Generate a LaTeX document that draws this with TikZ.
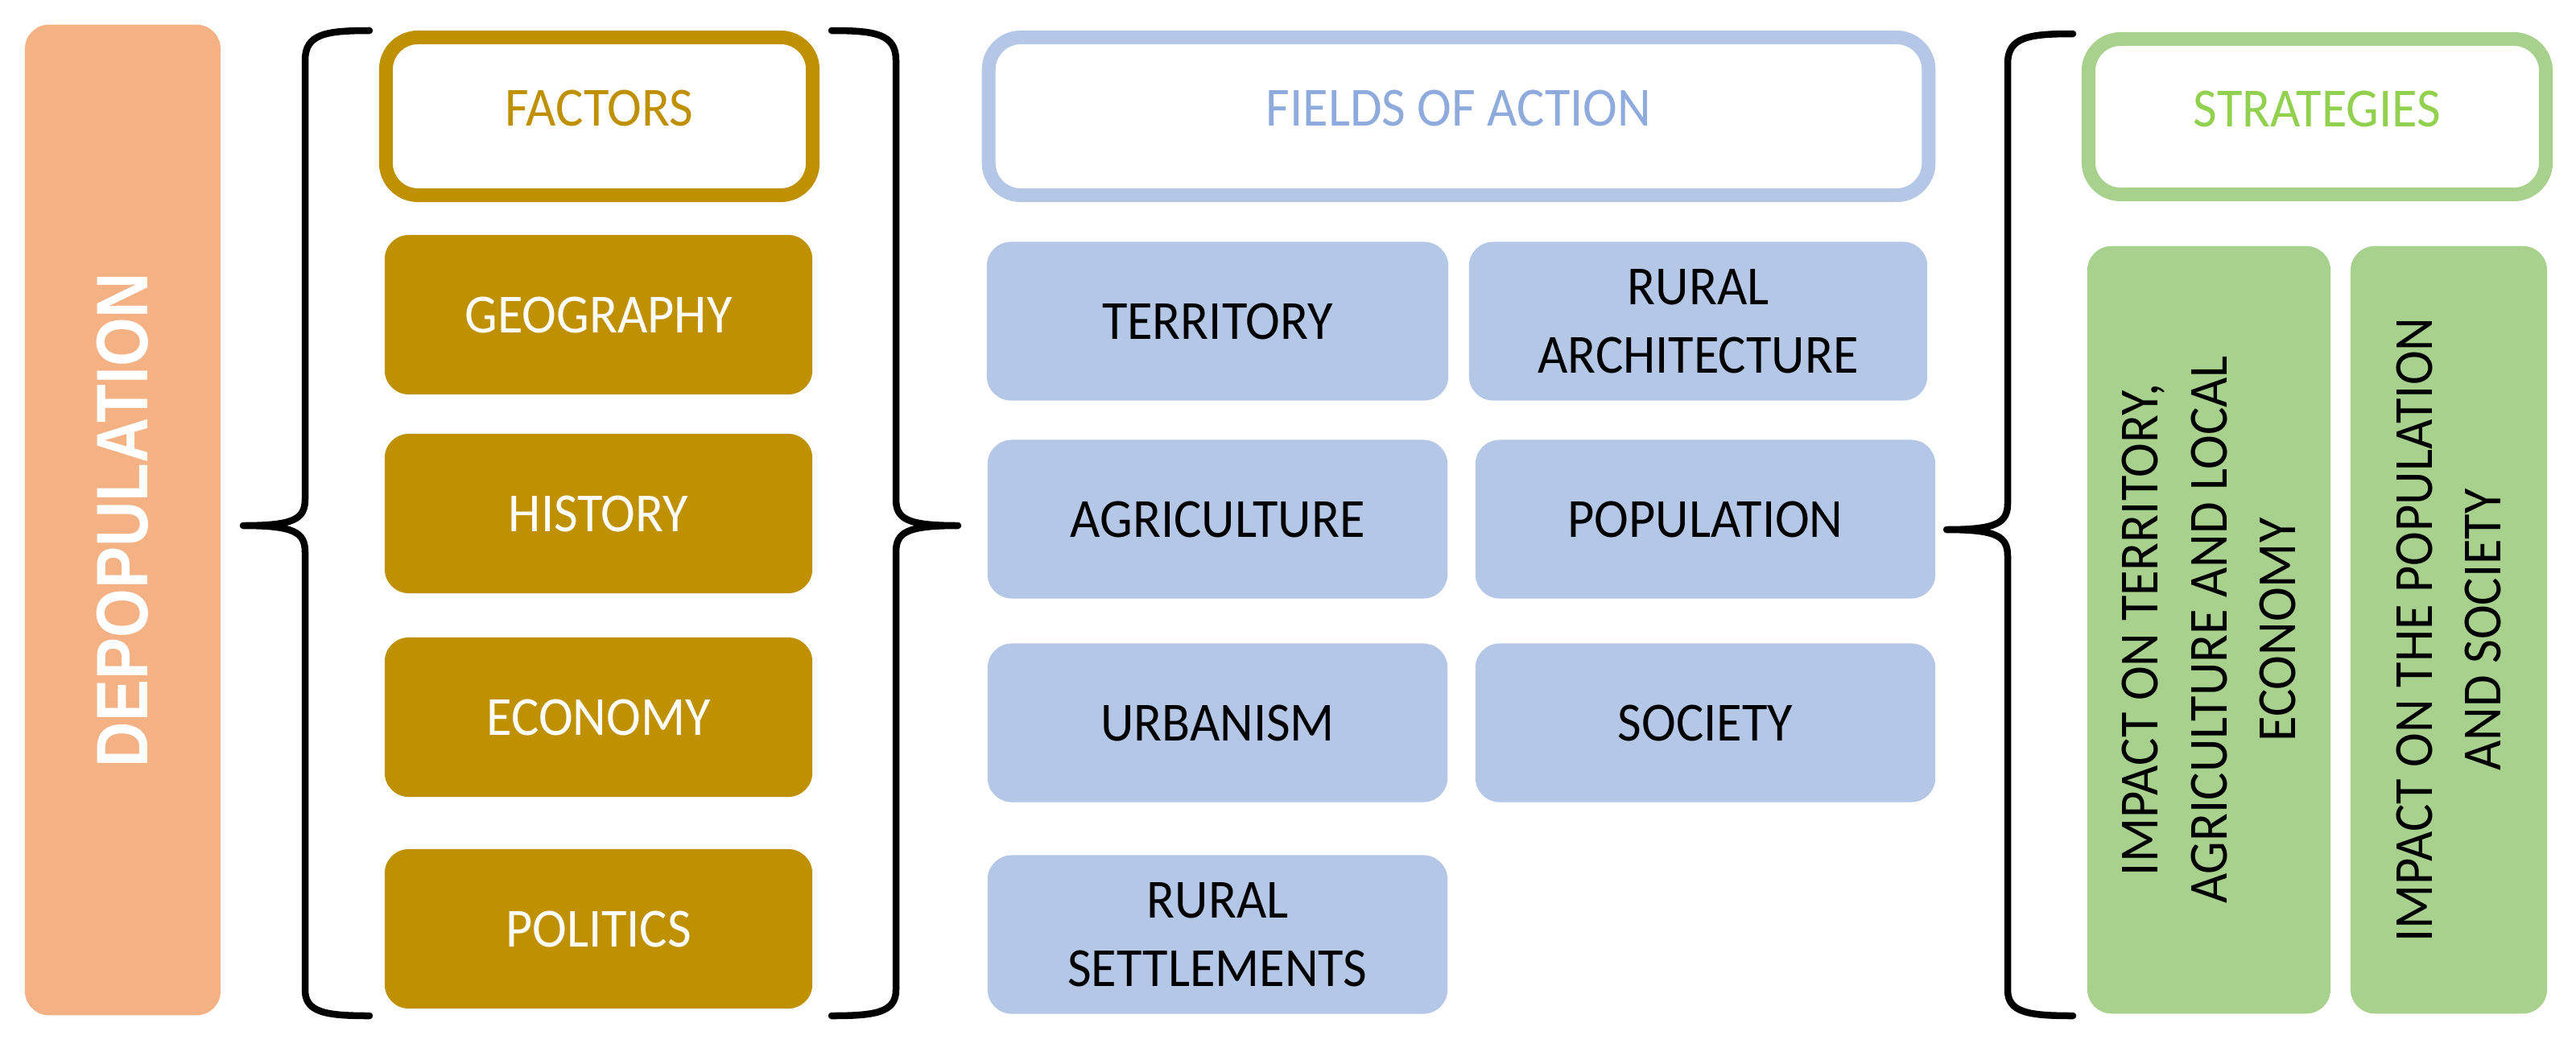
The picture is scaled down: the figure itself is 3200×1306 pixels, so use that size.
\documentclass[tikz,border=0pt]{standalone}
\usepackage{fontspec}
\setmainfont{Carlito}[FakeStretch=0.94]
\newfontfamily\depfont{Liberation Sans}
\definecolor{gold}{HTML}{BF9000}
\definecolor{lblue}{HTML}{B4C7E7}
\definecolor{dblue}{HTML}{8FAADC}
\definecolor{lgreen}{HTML}{A9D18E}
\definecolor{tgreen}{HTML}{92D050}
\definecolor{salmon}{HTML}{F4B183}
\tikzset{
  base/.style={rectangle, inner sep=0pt, outer sep=0pt, align=center,
    font=\fontsize{19.5}{24.2}\selectfont},
  fillbox/.style={base, rounded corners=0.3cm},
  goldbox/.style={fillbox, fill=gold, text=white, minimum width=5.31cm, minimum height=1.98cm},
  bluebox/.style={fillbox, fill=lblue, text=black, minimum height=1.97cm},
  outbox/.style={base, rounded corners=0.4cm, line width=0.17cm, fill=white,
    minimum height=1.96cm, text depth=0.2cm},
  greenbox/.style={fillbox, fill=lgreen, text=black, rotate=90, minimum width=9.53cm},
  bracestyle/.style={line width=0.085cm, black, line cap=round, line join=round},
}
\begin{document}
\begin{tikzpicture}[x=0.01cm,y=-0.01cm]
\useasboundingbox[fill=white] (0,0) rectangle (3200,1306);

% left column
\node[fillbox, fill=salmon, rotate=90, minimum width=12.30cm, minimum height=2.43cm,
  text=white, font=\depfont\bfseries\fontsize{25.8}{30}\selectfont]
  (dep) at (152.5,646) {\scalebox{0.86}[1]{DEPOPULATION}};

% factors
\node[outbox, draw=gold, text=gold, minimum width=5.30cm] (factors) at (744.5,144.5) {FACTORS};
\node[goldbox] (geo) at (743.5,391) {GEOGRAPHY};
\node[goldbox] (hist) at (743.5,638) {HISTORY};
\node[goldbox] (econ) at (743.5,891) {ECONOMY};
\node[goldbox] (pol) at (743.5,1154) {POLITICS};

% fields of action
\node[outbox, draw=lblue, text=dblue, minimum width=11.67cm] (fields) at (1812,144.5) {FIELDS OF ACTION};
\node[bluebox, minimum width=5.73cm] (terr) at (1512.5,399) {TERRITORY};
\node[bluebox, minimum width=5.69cm] (rarch) at (2109.5,399) {RURAL\\ARCHITECTURE};
\node[bluebox, minimum width=5.71cm] (agri) at (1512.5,645) {AGRICULTURE};
\node[bluebox, minimum width=5.71cm] (popu) at (2118.5,645) {POPULATION};
\node[bluebox, minimum width=5.71cm] (urb) at (1512.5,898) {URBANISM};
\node[bluebox, minimum width=5.71cm] (soc) at (2118.5,898) {SOCIETY};
\node[bluebox, minimum width=5.71cm] (rset) at (1512.5,1161) {RURAL\\SETTLEMENTS};

% strategies
\node[outbox, draw=lgreen, text=tgreen, minimum width=5.68cm, minimum height=1.93cm] (strat) at (2878.5,145) {STRATEGIES};
\node[greenbox, minimum height=3.02cm] (g1) at (2744,782.5) {IMPACT ON TERRITORY,\\AGRICULTURE AND LOCAL\\ECONOMY};
\node[greenbox, minimum height=2.44cm] (g2) at (3042,782.5) {IMPACT ON THE POPULATION\\AND SOCIETY};

% braces
\draw[bracestyle] (459,38) .. controls (405,38) and (379,42) .. (379,75) -- (379,620)
  .. controls (379,645) and (365,653) .. (302,653)
  .. controls (365,653) and (379,661) .. (379,686) -- (379,1230)
  .. controls (379,1258) and (405,1262) .. (459,1262);
\draw[bracestyle] (1033,38) .. controls (1087,38) and (1113,42) .. (1113,75) -- (1113,620)
  .. controls (1113,645) and (1127,653) .. (1190,653)
  .. controls (1127,653) and (1113,661) .. (1113,686) -- (1113,1230)
  .. controls (1113,1258) and (1087,1262) .. (1033,1262);
\draw[bracestyle] (2575,42) .. controls (2520,42) and (2494,46) .. (2494,79) -- (2494,625)
  .. controls (2494,650) and (2480,658) .. (2418,658)
  .. controls (2480,658) and (2494,666) .. (2494,691) -- (2494,1230)
  .. controls (2494,1258) and (2520,1262) .. (2575,1262);
\end{tikzpicture}
\end{document}
